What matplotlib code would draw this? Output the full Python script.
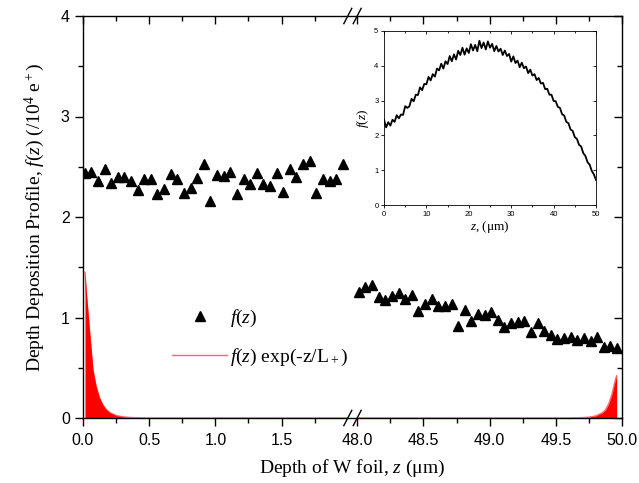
import numpy as np
import matplotlib
matplotlib.use("Agg")
import matplotlib.pyplot as plt
from matplotlib.ticker import MultipleLocator

plt.rcParams['font.family'] = ['Liberation Sans', 'DejaVu Sans']
plt.rcParams['mathtext.fontset'] = 'custom'
plt.rcParams['mathtext.rm'] = 'Liberation Serif'
plt.rcParams['mathtext.it'] = 'Liberation Serif:italic'
plt.rcParams['mathtext.bf'] = 'Liberation Serif:bold'

# broken axis: 0-2 um and 48-50 um
seg_gap = 0.071

# f(z) sampled near front surface
z_front = np.arange(40) * 0.05 + 0.0125
f_front = [2.44, 2.45, 2.36, 2.48, 2.34, 2.40, 2.40, 2.36, 2.27, 2.38,
           2.38, 2.23, 2.28, 2.43, 2.38, 2.24, 2.29, 2.39, 2.53, 2.16,
           2.42, 2.41, 2.45, 2.23, 2.38, 2.33, 2.44, 2.33, 2.31, 2.44,
           2.25, 2.48, 2.40, 2.53, 2.56, 2.24, 2.38, 2.36, 2.38, 2.53]

# f(z) sampled near back surface
z_back = np.arange(40) * 0.05 + 48.0125
f_back = [1.25, 1.30, 1.32, 1.20, 1.17, 1.21, 1.24, 1.18, 1.22, 1.06,
          1.13, 1.18, 1.11, 1.11, 1.13, 0.92, 1.07, 0.97, 1.03, 1.02,
          1.05, 0.98, 0.91, 0.95, 0.96, 0.97, 0.86, 0.95, 0.87, 0.83,
          0.79, 0.80, 0.81, 0.78, 0.80, 0.77, 0.81, 0.71, 0.72, 0.70]

# f(z) exp(-z/L+)
z_red_front = [0.015, 0.025, 0.05, 0.075, 0.1, 0.125, 0.15, 0.175, 0.2, 0.25, 0.3, 0.35, 0.4, 0.5, 2.0]
v_red_front = [1.45, 1.25, 0.86, 0.48, 0.31, 0.20, 0.13, 0.085, 0.055, 0.025, 0.012, 0.006, 0.003, 0.0, 0.0]
z_red_back = [48.0, 49.6, 49.7, 49.75, 49.8, 49.85, 49.875, 49.9, 49.925, 49.95, 49.96]
v_red_back = [0.0, 0.0, 0.004, 0.008, 0.02, 0.05, 0.08, 0.14, 0.24, 0.38, 0.42]

# inset: full profile, 0.5 um steps
z_full = np.arange(101) * 0.5
f_full = [2.45, 2.23, 2.38, 2.28, 2.45, 2.39, 2.58, 2.49, 2.60, 2.59,
          2.84, 2.79, 2.84, 3.05, 2.98, 3.17, 3.16, 3.38, 3.30, 3.48,
          3.47, 3.68, 3.58, 3.76, 3.69, 3.92, 3.87, 4.06, 3.92, 4.13,
          4.05, 4.28, 4.13, 4.33, 4.18, 4.43, 4.31, 4.52, 4.32, 4.50,
          4.37, 4.62, 4.44, 4.60, 4.42, 4.72, 4.51, 4.67, 4.47, 4.70,
          4.52, 4.63, 4.42, 4.57, 4.41, 4.49, 4.31, 4.44, 4.28, 4.34,
          4.12, 4.27, 4.08, 4.15, 3.96, 4.09, 3.93, 3.98, 3.79, 3.89,
          3.72, 3.76, 3.59, 3.65, 3.49, 3.51, 3.33, 3.34, 3.17, 3.17,
          2.99, 2.98, 2.82, 2.79, 2.61, 2.57, 2.39, 2.35, 2.17, 2.13,
          1.95, 1.90, 1.73, 1.68, 1.49, 1.41, 1.23, 1.16, 0.98, 0.88,
          0.72]

xt_front = [0.0, 0.5, 1.0, 1.5]
xt_back = [48.0, 48.5, 49.0, 49.5, 50.0]


def tox(z):
    z = np.asarray(z, dtype=float)
    return np.where(z > 10, z - 48.0 + 2.0 + seg_gap, z)


fig = plt.figure(figsize=(6.39, 4.83), dpi=100)
pos = [83/639, 65/483, 539/639, 402/483]
ax = fig.add_axes(pos)

ax.fill_between(tox(z_red_front), 0, v_red_front, color='red', lw=0)
ax.fill_between(tox(z_red_back), 0, v_red_back, color='red', lw=0)
ax.plot(tox(z_red_front), v_red_front, color='red', lw=1, alpha=0.6, zorder=3)
ln, = ax.plot(tox(z_red_back), v_red_back, color='red', lw=1, alpha=0.6, zorder=3,
              label=r'$\mathit{f(z)}$ exp(-z/L$_+$)')
tri, = ax.plot(tox(z_front), f_front, '^', color='black', ms=7, ls='none',
               label=r'$\mathit{f(z)}$')
ax.plot(tox(z_back), f_back, '^', color='black', ms=7, ls='none')

ax.set_xlim(0, 2.0 + seg_gap + 2.0)
ax.set_ylim(0, 4)
ax.set_xticks(tox(xt_front + xt_back))
ax.set_xticklabels(['%.1f' % v for v in xt_front + xt_back])
ax.set_xticks(tox([0.25, 0.75, 1.25, 1.75, 48.25, 48.75, 49.25, 49.75]), minor=True)
ax.yaxis.set_major_locator(MultipleLocator(1))
ax.yaxis.set_minor_locator(MultipleLocator(0.5))
ax.tick_params(which='both', direction='out', top=False, right=False, labelsize=11.5)
ax.tick_params(which='major', length=6, width=1)
ax.tick_params(which='minor', length=3.5, width=1)
ax.tick_params(axis='x', which='major', pad=5)
for s in ax.spines.values():
    s.set_linewidth(1)

# top / right ticks point inward
axt = fig.add_axes(pos, sharex=ax, sharey=ax, frameon=False)
axt.tick_params(which='both', direction='in', bottom=False, left=False, top=True, right=True,
                labelbottom=False, labelleft=False)
axt.tick_params(which='major', length=6, width=1)
axt.tick_params(which='minor', length=3.5, width=1)
axt.patch.set_visible(False)

# break marks
for xb in [2.0, 2.0 + seg_gap]:
    for yb in [0, 1]:
        ax.plot([xb - 0.03, xb + 0.03], [yb - 0.019, yb + 0.019], color='black', lw=1,
                transform=ax.get_xaxis_transform(), clip_on=False, zorder=5)

ax.set_xlabel(r'Depth of W foil, $\mathit{z}$ ($\mathrm{\mu}$m)', family='Liberation Serif',
              fontsize=14, labelpad=7)
ax.set_ylabel(r'Depth Deposition Profile, $\mathit{f(z)}$ (/10$^4$ e$^+$)',
              family='Liberation Serif', fontsize=14, labelpad=10)

ax.legend(handles=[tri, ln], loc='upper left', bbox_to_anchor=(172/639, 1 - 308/483),
          bbox_transform=fig.transFigure, frameon=False,
          handlelength=2.83, handletextpad=0.15, borderpad=0, borderaxespad=0,
          labelspacing=0.9, prop={'family': 'Liberation Serif', 'size': 14})

# inset
ipos = [384/639, 278/483, 212/639, 174/483]
axi = fig.add_axes(ipos)
axi.plot(z_full, f_full, color='black', lw=1.3)
axi.set_xlim(0, 50)
axi.set_ylim(0, 5)
axi.xaxis.set_major_locator(MultipleLocator(10))
axi.xaxis.set_minor_locator(MultipleLocator(5))
axi.yaxis.set_major_locator(MultipleLocator(1))
axi.tick_params(which='both', direction='out', top=False, right=False, labelsize=5.5,
                width=0.6, pad=1.5)
axi.tick_params(which='major', length=2.5)
axi.tick_params(which='minor', length=1.5)
for s in axi.spines.values():
    s.set_linewidth(0.6)

axit = fig.add_axes(ipos, sharex=axi, sharey=axi, frameon=False)
axit.tick_params(which='both', direction='in', bottom=False, left=False, top=True, right=True,
                 labelbottom=False, labelleft=False, width=0.6)
axit.tick_params(which='major', length=2.5)
axit.tick_params(which='minor', length=1.5)
axit.patch.set_visible(False)

axi.set_xlabel(r'$\mathit{z}$, ($\mathrm{\mu}$m)', family='Liberation Serif', fontsize=9.5,
               labelpad=1)
axi.set_ylabel(r'$\mathit{f(z)}$', family='Liberation Serif', fontsize=9.5, labelpad=2)

fig.savefig('out.png', dpi=100)
